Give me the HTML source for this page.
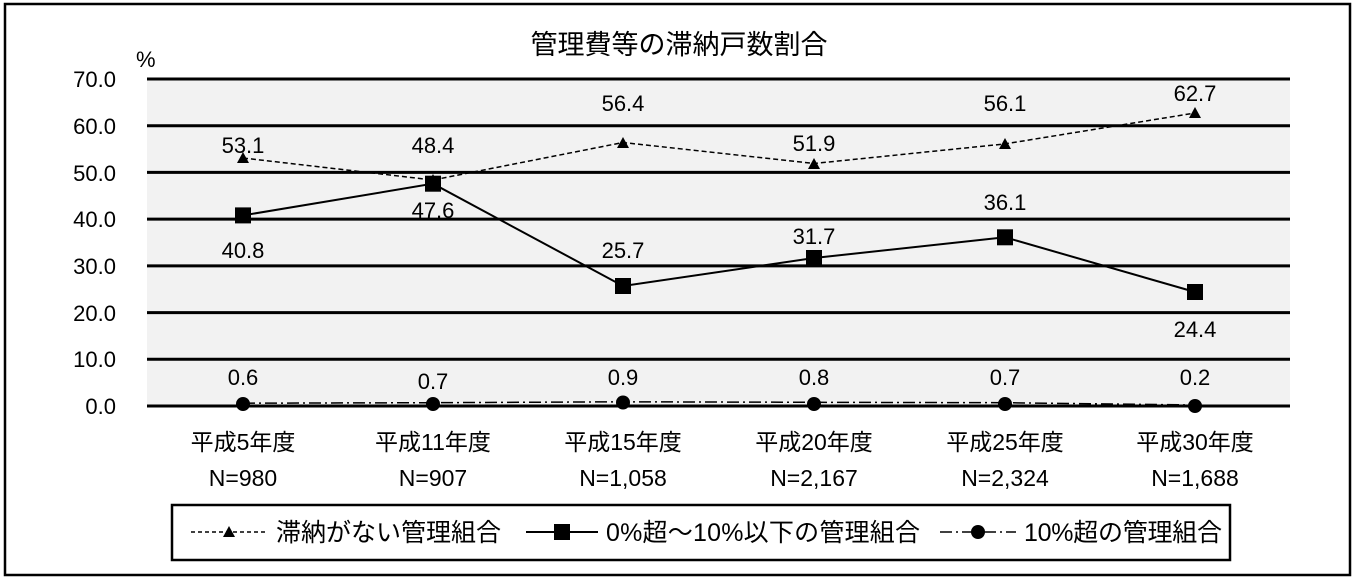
<!DOCTYPE html>
<html><head><meta charset="utf-8"><style>
html,body{margin:0;padding:0;background:#fff}
svg{display:block}
text{font-family:"Liberation Sans","Noto Sans CJK JP",sans-serif;fill:#000}
</style></head><body>
<svg width="1357" height="582" viewBox="0 0 1357 582" xmlns="http://www.w3.org/2000/svg">
<rect x="5" y="4" width="1345" height="571" fill="#fff" stroke="#000" stroke-width="2.5"/>
<rect x="147" y="79" width="1143" height="327" fill="#f2f2f2"/>
<g stroke="#000" stroke-width="3">
<line x1="147" y1="79" x2="1290" y2="79"/>
<line x1="147" y1="125.7" x2="1290" y2="125.7"/>
<line x1="147" y1="172.4" x2="1290" y2="172.4"/>
<line x1="147" y1="219.1" x2="1290" y2="219.1"/>
<line x1="147" y1="265.9" x2="1290" y2="265.9"/>
<line x1="147" y1="312.6" x2="1290" y2="312.6"/>
<line x1="147" y1="359.3" x2="1290" y2="359.3"/>
<line x1="147" y1="406" x2="1290" y2="406"/>
</g>
<text x="679" y="54" font-size="27" text-anchor="middle">管理費等の滞納戸数割合</text>
<text x="136" y="67" font-size="22">%</text>
<g font-size="22" text-anchor="end">
<text x="116" y="87">70.0</text><text x="116" y="134">60.0</text><text x="116" y="181">50.0</text>
<text x="116" y="227">40.0</text><text x="116" y="274">30.0</text><text x="116" y="321">20.0</text>
<text x="116" y="367">10.0</text><text x="116" y="414">0.0</text>
</g>
<polyline points="243,158 433,180 623,142.5 814,163.5 1005,143.9 1195,113" fill="none" stroke="#000" stroke-width="1.5" stroke-dasharray="5,3"/>
<g fill="#000">
<polygon points="243,152 237,163 249,163"/><polygon points="433,174 427,185 439,185"/>
<polygon points="623,137 617,148 629,148"/><polygon points="814,158 808,169 820,169"/>
<polygon points="1005,138 999,149 1011,149"/><polygon points="1195,107 1189,118 1201,118"/>
</g>
<polyline points="243,215.4 433,183.7 623,286 814,258 1005,237.3 1195,292" fill="none" stroke="#000" stroke-width="2"/>
<g fill="#000">
<rect x="235" y="207.4" width="16" height="16"/><rect x="425" y="175.7" width="16" height="16"/>
<rect x="615" y="278" width="16" height="16"/><rect x="806" y="250" width="16" height="16"/>
<rect x="997" y="229.3" width="16" height="16"/><rect x="1187" y="284" width="16" height="16"/>
</g>
<polyline points="243,403.2 433,402.7 623,401.8 814,402.3 1005,402.7 1195,405" fill="none" stroke="#000" stroke-width="1.5" stroke-dasharray="12,4,2,4"/>
<g fill="#000">
<circle cx="243" cy="404" r="7"/><circle cx="433" cy="404" r="7"/><circle cx="623" cy="402.5" r="7"/>
<circle cx="814" cy="404" r="7"/><circle cx="1005" cy="404" r="7"/><circle cx="1195" cy="406" r="7"/>
</g>
<g font-size="22" text-anchor="middle">
<text x="243" y="153">53.1</text><text x="433" y="153">48.4</text><text x="623" y="111">56.4</text>
<text x="814" y="151">51.9</text><text x="1005" y="111">56.1</text><text x="1195" y="101">62.7</text>
<text x="243" y="258">40.8</text><text x="433" y="218">47.6</text><text x="623" y="258">25.7</text>
<text x="814" y="244">31.7</text><text x="1005" y="210">36.1</text><text x="1195" y="337">24.4</text>
<text x="243" y="385">0.6</text><text x="433" y="389">0.7</text><text x="623" y="385">0.9</text>
<text x="814" y="385">0.8</text><text x="1005" y="385">0.7</text><text x="1195" y="385">0.2</text>
</g>
<g font-size="23" text-anchor="middle">
<text x="243" y="450">平成5年度</text><text x="433" y="450">平成11年度</text><text x="623" y="450">平成15年度</text>
<text x="814" y="450">平成20年度</text><text x="1005" y="450">平成25年度</text><text x="1195" y="450">平成30年度</text>
<text x="243" y="486">N=980</text><text x="433" y="486">N=907</text><text x="623" y="486">N=1,058</text>
<text x="814" y="486">N=2,167</text><text x="1005" y="486">N=2,324</text><text x="1195" y="486">N=1,688</text>
</g>
<rect x="172" y="505" width="1058" height="55" fill="#fff" stroke="#000" stroke-width="2.5"/>
<line x1="191" y1="532" x2="266" y2="532" stroke="#000" stroke-width="1.5" stroke-dasharray="4,3"/>
<polygon points="229,526 223,537 235,537" fill="#000"/>
<text x="276" y="541" font-size="25">滞納がない管理組合</text>
<line x1="526" y1="532" x2="598" y2="532" stroke="#000" stroke-width="2"/>
<rect x="554" y="524" width="16" height="16" fill="#000"/>
<text x="606" y="541" font-size="25" textLength="314">0%超～10%以下の管理組合</text>
<line x1="940" y1="532" x2="1016" y2="532" stroke="#000" stroke-width="1.5" stroke-dasharray="12,4,2,4"/>
<circle cx="978" cy="532" r="7" fill="#000"/>
<text x="1024" y="541" font-size="25" textLength="198">10%超の管理組合</text>
</svg>
</body></html>
